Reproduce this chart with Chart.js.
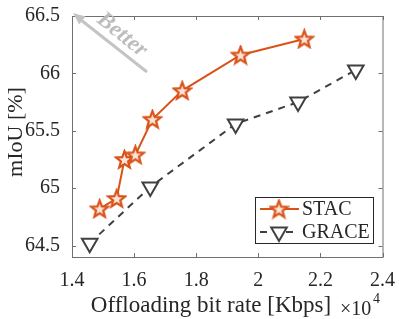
<!DOCTYPE html>
<html>
<head>
<meta charset="utf-8">
<script src="https://cdn.jsdelivr.net/npm/chart.js@4.4.0/dist/chart.umd.min.js"></script>
<style>
  html, body { margin: 0; padding: 0; background: #fff; }
  #wrap { width: 399px; height: 319px; }
</style>
</head>
<body>
<div id="wrap"><canvas id="chart" width="399" height="319"></canvas></div>
<script>
// data (rate in Kbps)
const stacRate = [14890, 15440, 15690, 16040, 16590, 17550, 19430, 21480];
const stacMiou = [64.82, 64.91, 65.25, 65.29, 65.60, 65.85, 66.16, 66.30];
const graceRate = [14570, 16520, 19270, 21280, 23140];
const graceMiou = [64.52, 65.01, 65.56, 65.75, 66.03];
const xTicks = [14000, 16000, 18000, 20000, 22000, 24000];
const yTicks = [64.5, 65, 65.5, 66, 66.5];
const seriesNames = ['STAC', 'GRACE'];

const ORANGE = '#D95319';
const GREY = '#404040';
const SERIF = '"Liberation Serif", "DejaVu Serif", serif';

// pentagram marker (Chart.js 'star' is an asterisk)
function makeStar(size, color) {
  const c = document.createElement('canvas');
  c.width = size; c.height = size;
  const g = c.getContext('2d');
  const cx = size / 2, cy = size / 2 + 0.7, ro = size / 2 - 1.5, ri = ro * 0.42;
  g.beginPath();
  for (let i = 0; i < 10; i++) {
    const r = i % 2 === 0 ? ro : ri;
    const a = -Math.PI / 2 + i * Math.PI / 5;
    const px = cx + r * Math.cos(a), py = cy + r * Math.sin(a);
    if (i === 0) g.moveTo(px, py); else g.lineTo(px, py);
  }
  g.closePath();
  g.fillStyle = '#fbe3d8';
  g.fill();
  g.strokeStyle = color;
  g.lineWidth = 2.2;
  g.lineJoin = 'miter';
  g.stroke();
  return c;
}
const starImg = makeStar(21, ORANGE);

const toPoints = (xs, ys) => xs.map((x, i) => ({ x: x, y: ys[i] }));

// box, inward ticks, titles, arrow and legend
const decorPlugin = {
  id: 'decor',
  afterDraw(chart) {
    const ctx = chart.ctx;
    const a = chart.chartArea;
    const xs = chart.scales.x, ys = chart.scales.y;
    ctx.save();
    ctx.strokeStyle = '#707070';
    ctx.lineWidth = 1;
    ctx.strokeRect(a.left + 0.5, a.top + 0.5, a.right - a.left, a.bottom - a.top);
    ctx.beginPath();
    xTicks.forEach(v => {
      const px = Math.round(xs.getPixelForValue(v)) + 0.5;
      ctx.moveTo(px, a.bottom); ctx.lineTo(px, a.bottom - 4);
      ctx.moveTo(px, a.top); ctx.lineTo(px, a.top + 4);
    });
    yTicks.forEach(v => {
      const py = Math.round(ys.getPixelForValue(v)) + 0.5;
      ctx.moveTo(a.left, py); ctx.lineTo(a.left + 4, py);
      ctx.moveTo(a.right, py); ctx.lineTo(a.right - 4, py);
    });
    ctx.stroke();

    // axis titles
    ctx.fillStyle = '#262626';
    ctx.font = '23px ' + SERIF;
    ctx.textAlign = 'center';
    ctx.textBaseline = 'alphabetic';
    ctx.fillText('Offloading bit rate [Kbps]', 211, 312);
    ctx.save();
    ctx.translate(22, 132);
    ctx.rotate(-Math.PI / 2);
    ctx.font = '22px ' + SERIF;
    ctx.fillText('mIoU [%]', 0, 0);
    ctx.restore();
    // exponent
    ctx.font = '20px ' + SERIF;
    ctx.textAlign = 'left';
    ctx.fillText('\u00d710', 340, 315);
    ctx.font = '14px ' + SERIF;
    ctx.fillText('4', 373, 303);

    // "Better" arrow
    ctx.strokeStyle = '#c4c4c4';
    ctx.fillStyle = '#c4c4c4';
    ctx.lineWidth = 3;
    ctx.beginPath();
    ctx.moveTo(147, 72); ctx.lineTo(81, 20);
    ctx.stroke();
    const ang = Math.atan2(13 - 72, 73 - 147);
    ctx.beginPath();
    ctx.moveTo(73, 13);
    ctx.lineTo(73 - 13 * Math.cos(ang - 0.4), 13 - 13 * Math.sin(ang - 0.4));
    ctx.lineTo(73 - 13 * Math.cos(ang + 0.4), 13 - 13 * Math.sin(ang + 0.4));
    ctx.closePath();
    ctx.fill();
    ctx.save();
    ctx.translate(122, 35);
    ctx.rotate(0.68);
    ctx.font = 'italic bold 23px ' + SERIF;
    ctx.textAlign = 'center';
    ctx.textBaseline = 'middle';
    ctx.fillStyle = '#bdbdbd';
    ctx.fillText('Better', 0, 0);
    ctx.restore();

    // legend
    const lx = 255, ly = 197, lw = 118, lh = 46;
    ctx.fillStyle = '#fff';
    ctx.fillRect(lx, ly, lw, lh);
    ctx.strokeStyle = '#262626';
    ctx.lineWidth = 1;
    ctx.strokeRect(lx + 0.5, ly + 0.5, lw, lh);
    ctx.textBaseline = 'middle';
    chart.data.datasets.forEach((ds, i) => {
      const yy = ly + 12 + i * 23;
      ctx.strokeStyle = ds.borderColor;
      ctx.lineWidth = ds.borderWidth;
      ctx.setLineDash(ds.borderDash || []);
      ctx.beginPath();
      ctx.moveTo(lx + 5, yy); ctx.lineTo(lx + 44, yy);
      ctx.stroke();
      ctx.setLineDash([]);
      ctx.fillStyle = '#fff';
      ctx.strokeStyle = ds.pointBorderColor;
      ctx.lineWidth = ds.pointBorderWidth;
      Chart.helpers.drawPoint(ctx, {
        pointStyle: ds.pointStyle, radius: ds.pointRadius,
        rotation: ds.pointRotation || 0, borderWidth: ds.pointBorderWidth
      }, lx + 24, yy);
      ctx.fillStyle = '#262626';
      ctx.font = '20px ' + SERIF;
      ctx.textAlign = 'left';
      ctx.fillText(ds.label, lx + 47, yy + 1);
    });
    ctx.restore();
  }
};

new Chart(document.getElementById('chart'), {
  type: 'line',
  data: {
    datasets: [
      {
        label: seriesNames[0],
        data: toPoints(stacRate, stacMiou),
        borderColor: ORANGE,
        borderWidth: 2,
        pointStyle: starImg,
        pointRadius: 9,
        pointBorderColor: ORANGE,
        pointBorderWidth: 2.2,
        tension: 0
      },
      {
        label: seriesNames[1],
        data: toPoints(graceRate, graceMiou),
        borderColor: GREY,
        borderWidth: 2,
        borderDash: [7, 6],
        pointStyle: 'triangle',
        pointRotation: 180,
        pointRadius: 9,
        pointBackgroundColor: '#fff',
        pointBorderColor: GREY,
        pointBorderWidth: 2,
        tension: 0
      }
    ]
  },
  options: {
    responsive: false,
    animation: false,
    devicePixelRatio: 1,
    layout: { padding: { left: 0, right: 14, top: 9, bottom: 0 } },
    plugins: { legend: { display: false }, tooltip: { enabled: false } },
    scales: {
      x: {
        type: 'linear',
        min: 14000, max: 24000,
        afterBuildTicks: s => { s.ticks = xTicks.map(v => ({ value: v })); },
        afterFit: s => { s.height = 62; },
        grid: { display: false },
        border: { display: false },
        ticks: {
          padding: 4,
          color: '#262626',
          font: { family: SERIF, size: 20 },
          maxRotation: 0,
          callback: v => String(v / 10000)
        }
      },
      y: {
        type: 'linear',
        min: 64.4, max: 66.5,
        afterBuildTicks: s => { s.ticks = yTicks.map(v => ({ value: v })); },
        afterFit: s => { s.width = 72; },
        grid: { display: false },
        border: { display: false },
        ticks: {
          padding: 4,
          color: '#262626',
          font: { family: SERIF, size: 20 },
          callback: v => String(v)
        }
      }
    }
  },
  plugins: [decorPlugin]
});
</script>
</body>
</html>
